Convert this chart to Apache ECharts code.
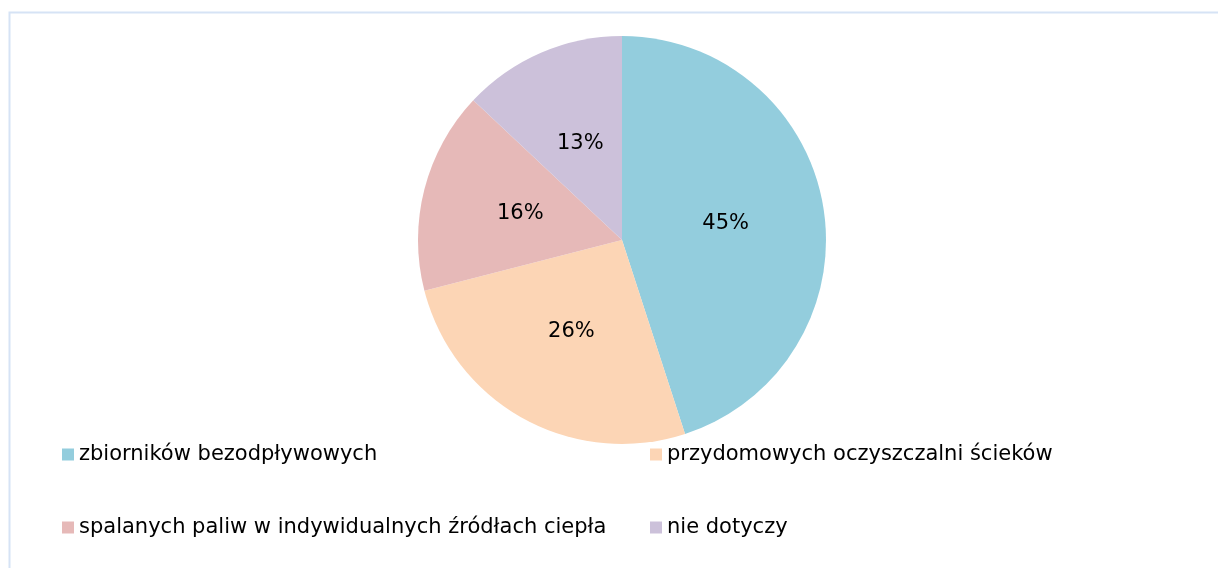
<!DOCTYPE html>
<html>
<head>
<meta charset="utf-8">
<style>
  html, body { margin: 0; padding: 0; background: #ffffff; }
  #chart { width: 1218px; height: 568px; }
</style>
<script src="https://cdn.jsdelivr.net/npm/echarts@6/dist/echarts.min.js"></script>
</head>
<body>
<div id="chart"></div>
<script>
// Źródła zanieczyszczeń – udział odpowiedzi
const categories = [
  'zbiorników bezodpływowych',
  'przydomowych oczyszczalni ścieków',
  'spalanych paliw w indywidualnych źródłach ciepła',
  'nie dotyczy'
];
const shares = [45, 26, 16, 13];
const colors = ['#93CDDD', '#FCD5B5', '#E6B9B8', '#CCC1DA'];

const chart = echarts.init(document.getElementById('chart'), null, { renderer: 'canvas' });

const fontFamily = '"DejaVu Sans", "Liberation Sans", Arial, sans-serif';

const legendBase = {
  orient: 'vertical',
  icon: 'rect',
  padding: 0,
  itemWidth: 12,
  itemHeight: 12,
  itemGap: 52,
  selectedMode: false,
  textStyle: { fontFamily: fontFamily, fontSize: 21, color: '#000000', lineHeight: 20 },
  top: 444
};

chart.setOption({
  animation: false,
  color: colors,
  graphic: [{
    type: 'rect',
    shape: { x: 9.5, y: 12.5, width: 1230, height: 600 },
    style: { fill: 'none', stroke: '#D6E3F5', lineWidth: 2 },
    silent: true,
    z: -1
  }],
  legend: [
    Object.assign({}, legendBase, { left: 62, data: [categories[0], categories[2]] }),
    Object.assign({}, legendBase, { left: 650, data: [categories[1], categories[3]] })
  ],
  series: [{
    type: 'pie',
    center: [622, 240],
    radius: [0, 204],
    startAngle: 90,
    clockwise: true,
    avoidLabelOverlap: false,
    label: {
      show: true,
      position: 'inside',
      formatter: '{c}%',
      fontFamily: fontFamily,
      fontSize: 21,
      color: '#000000'
    },
    labelLine: { show: false },
    emphasis: { disabled: true },
    itemStyle: { borderWidth: 0 },
    data: categories.map((name, i) => ({ name: name, value: shares[i] }))
  }]
});
</script>
</body>
</html>
